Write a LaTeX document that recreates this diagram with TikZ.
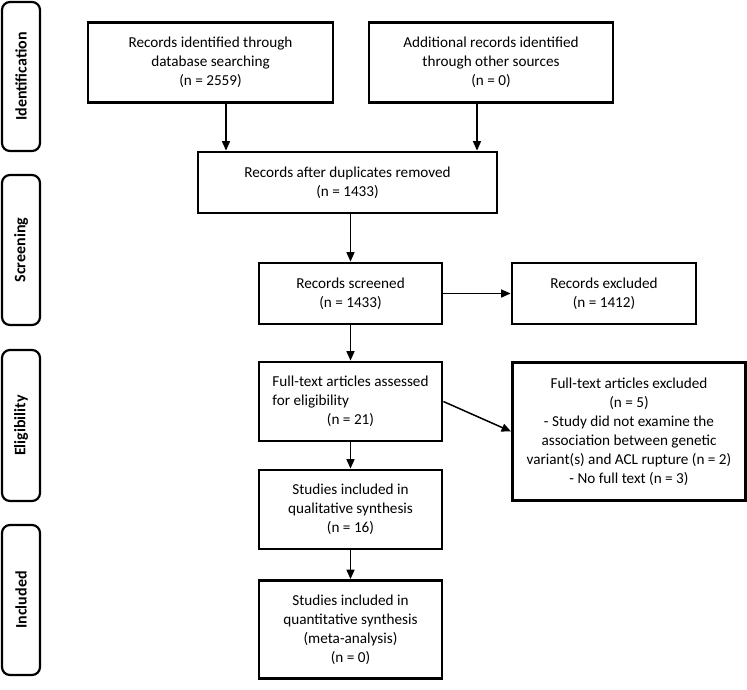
\documentclass[tikz,border=0pt]{standalone}
\usepackage{fontspec}
\setmainfont{Carlito}
\usetikzlibrary{arrows.meta,calc}
\newlength\ftw
\AtBeginDocument{\settowidth{\ftw}{\fontsize{15.2}{19}\selectfont Full-text articles assessed}}
\tikzset{
  box/.style={draw=black,line width=2.8pt,align=center,inner sep=0pt,font=\fontsize{15.2}{19}\selectfont},
  side/.style={draw=black,line width=2.2pt,rounded corners=8pt,minimum width=38pt,inner sep=0pt,font=\fontsize{16}{19}\selectfont\bfseries},
  arr/.style={line width=1.5pt,-{Triangle[length=9.5pt,width=8pt]}}
}
\begin{document}
\begin{tikzpicture}[x=1pt,y=-1pt]
\useasboundingbox (0,0) rectangle (747,689);
% side labels
\node[side,minimum height=149pt] (sid) at (21,76.5) {\rotatebox{90}{Identification}};
\node[side,minimum height=150pt] (ssc) at (21,250) {\rotatebox{90}{Screening}};
\node[side,minimum height=151pt] (sel) at (21,425.5) {\rotatebox{90}{Eligibility}};
\node[side,minimum height=150pt] (sin) at (21,600) {\rotatebox{90}{Included}};
% boxes
\node[box,minimum width=245pt,minimum height=80pt] (b1) at (210.5,62.5) {Records identified through\\database searching\\(n = 2559)};
\node[box,minimum width=244pt,minimum height=80pt] (b2) at (491,62.5) {Additional records identified\\through other sources\\(n = 0)};
\node[box,minimum width=299pt,minimum height=61pt] (b3) at (347.5,182.5) {Records after duplicates removed\\(n = 1433)};
\node[box,minimum width=183pt,minimum height=61pt] (b4) at (350.5,293.5) {Records screened\\(n = 1433)};
\node[box,minimum width=184pt,minimum height=61pt] (e1) at (604,293.5) {Records excluded\\(n = 1412)};
\node[box,minimum width=183pt,minimum height=79pt] (b5) at (350.5,401.5) {Full-text articles assessed\\\makebox[\ftw][l]{for eligibility}\\(n = 21)};
\node[box,minimum width=233pt,minimum height=138pt] (e2) at (629,431.5) {Full-text articles excluded\\(n = 5)\\- Study did not examine the\\association between genetic\\variant(s) and ACL rupture (n = 2)\\- No full text (n = 3)};
\node[box,minimum width=183pt,minimum height=79pt] (b7) at (350.5,509.5) {Studies included in\\qualitative synthesis\\(n = 16)};
\node[box,minimum width=183pt,minimum height=98pt] (b8) at (350.5,629.5) {Studies included in\\quantitative synthesis\\(meta-analysis)\\(n = 0)};
% connectors
\draw[arr] ([xshift=15.5pt]b1.south) -- ([xshift=15.5pt]b1.south |- b3.north);
\draw[arr] ([xshift=-14pt]b2.south) -- ([xshift=-14pt]b2.south |- b3.north);
\draw[arr] (b3.south -| b4.north) -- (b4.north);
\draw[arr] (b4.east) -- (e1.west);
\draw[arr] (b4.south) -- (b5.north);
\draw[arr] (b5.east) -- (e2.west);
\draw[arr] (b5.south) -- (b7.north);
\draw[arr] (b7.south) -- (b8.north);
\end{tikzpicture}
\end{document}
